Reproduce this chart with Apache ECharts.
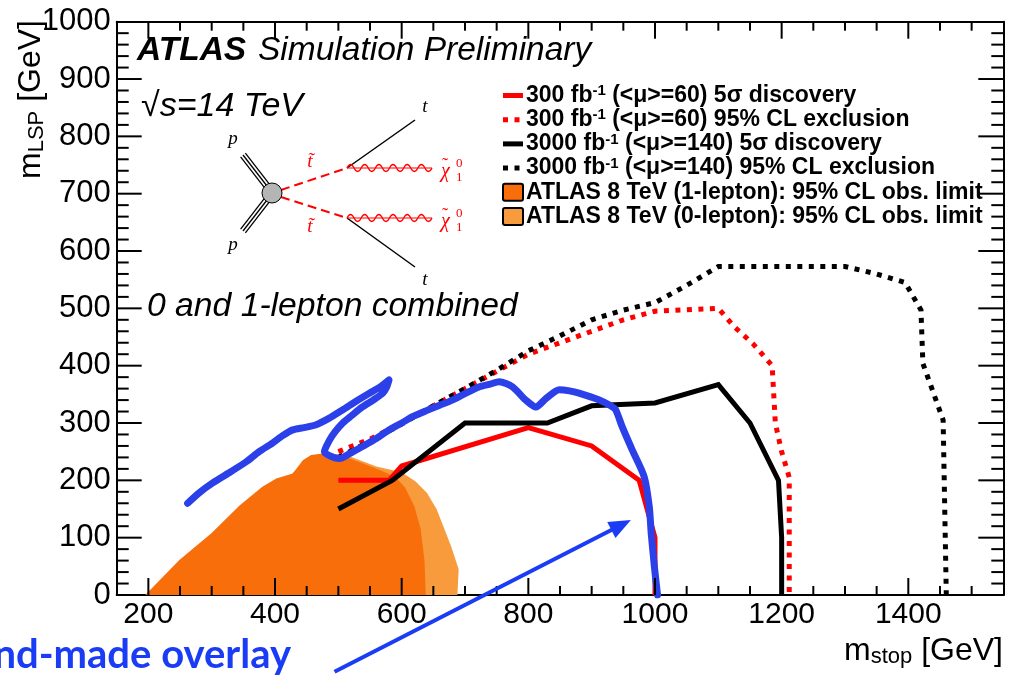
<!DOCTYPE html>
<html><head><meta charset="utf-8">
<script src="https://cdn.jsdelivr.net/npm/echarts@6/dist/echarts.min.js"></script>
<style>html,body{margin:0;padding:0;background:#fff}#c{width:1010px;height:678px}</style>
</head><body><div id="c"></div>
<script>
// ---------- data ----------
const xMajorTicks = [200, 400, 600, 800, 1000, 1200, 1400];
const yMajorTicks = [0, 100, 200, 300, 400, 500, 600, 700, 800, 900, 1000];
const xMinorStep = 50, yMinorStep = 20;

const disc300 = [[500,200],[580,200],[600,225],[800,292],[900,260],[975,200],[1000,100],[1000,0]];
const excl300 = [[500,250],[550,272],[600,300],[650,330],[700,360],[750,390],[800,420],[850,440],[900,460],[950,480],[1000,495],[1100,500],[1125,468],[1155,438],[1185,400],[1190,300],[1200,250],[1212,205],[1212,0]];
const disc3000 = [[500,150],[585,200],[700,300],[830,300],[900,330],[1000,335],[1100,367],[1150,300],[1195,200],[1200,100],[1200,0]];
const excl3000 = [[500,240],[550,268],[600,298],[650,330],[700,360],[750,392],[800,426],[850,452],[900,480],[950,497],[1000,510],[1050,540],[1100,573],[1300,573],[1350,560],[1395,545],[1420,497],[1423,404],[1455,305],[1460,0]];
const atlas8TeV1lep = [[195,0],[249,61],[300,108],[344,156],[380,189],[402,203],[428,212],[444,235],[457,244],[475,247],[502,244],[538,230],[570,216],[590,206],[605,188],[620,155],[630,115],[636,60],[638,0]];
const atlas8TeV0lep = [[330,0],[380,150],[430,215],[470,245],[510,245],[560,224],[600,214],[622,198],[640,178],[655,150],[665,122],[678,85],[690,45],[688,0]];
const handOverlay = [[262,160],[280,178],[301,195],[330,215],[354,232],[375,250],[396,265],[412,278],[428,288],[446,292],[465,297],[485,308],[507,323],[528,338],[549,352],[565,362],[580,375],[576,362],[570,352],[555,340],[538,328],[520,312],[507,300],[495,285],[486,270],[478,250],[488,242],[502,238],[520,248],[538,259],[560,273],[580,288],[600,300],[617,311],[640,322],[660,331],[680,340],[696,349],[722,363],[740,368],[754,372],[775,363],[796,340],[812,328],[828,343],[849,358],[865,356],[880,352],[912,340],[930,330],[938,323],[948,294],[964,253],[983,206],[991,154],[994,108],[999,50],[1004,0]];
const arrowFrom = [494,-134];
const arrowTo = [962,131];

const legendLabels = [
  '300 fb{sup|-1} (<μ>=60) 5σ discovery',
  '300 fb{sup|-1} (<μ>=60) 95% CL exclusion',
  '3000 fb{sup|-1} (<μ>=140) 5σ discovery',
  '3000 fb{sup|-1} (<μ>=140) 95% CL exclusion',
  'ATLAS 8 TeV (1-lepton): 95% CL obs. limit',
  'ATLAS 8 TeV (0-lepton): 95% CL obs. limit'
];
const xTitle = 'm{sub|stop} [GeV]';
const yTitle = 'm{sub|LSP} [GeV]';

// ---------- styles ----------
const F = '"Liberation Sans", Arial, Helvetica, sans-serif';
const SERIF = '"Liberation Serif", "DejaVu Serif", serif';
const RED = '#ff0000', BLACK = '#000000', BLUE = '#2b40e8';
const ORANGE1 = '#f76e0b', ORANGE0 = '#f89b3d';
const DOT = [5, 6.5];

const chart = echarts.init(document.getElementById('c'), null, {renderer: 'canvas'});

const axLine = {show: true, onZero: false, lineStyle: {color: '#000', width: 2}};
const fmt = v => String(v);
function xAx(pos) {
  return {
    type: 'value', position: pos, min: 150, max: 1550, interval: 50,
    splitLine: {show: false}, axisLine: axLine, axisTick: {show: false},
    axisLabel: pos === 'bottom' ? {show: true, customValues: xMajorTicks, formatter: fmt, fontSize: 30, fontFamily: F, color: '#000', margin: 5}
                                : {show: false}
  };
}
function yAx(pos) {
  return {
    type: 'value', position: pos, min: 0, max: 1000, interval: 100,
    splitLine: {show: false}, axisLine: axLine, axisTick: {show: false},
    axisLabel: pos === 'left' ? {show: true, formatter: fmt, fontSize: 31, fontFamily: F, color: '#000', margin: 6}
                              : {show: false}
  };
}

function poly(name, pts, color, z) {
  return {
    type: 'custom', name: name, xAxisIndex: 0, yAxisIndex: 0, z: z, silent: true,
    data: [pts[0]],
    renderItem: function (params, api) {
      return {type: 'polygon', shape: {points: pts.map(p => api.coord(p))}, style: {fill: color}};
    }
  };
}
function line(name, pts, color, width, dash, z, extra) {
  return Object.assign({
    type: 'line', name: name, data: pts, xAxisIndex: 0, yAxisIndex: 0, z: z,
    symbol: 'none', showSymbol: false, silent: true,
    lineStyle: {color: color, width: width, type: dash || 'solid', cap: 'butt', join: 'miter'}
  }, extra || {});
}

function txt(x, y, text, st) {
  const s = Object.assign({text: text, fill: '#000', fontFamily: F, fontSize: 30,
    align: 'left', verticalAlign: 'middle'}, st || {});
  s.textAlign = s.align; s.textVerticalAlign = s.verticalAlign;
  return {type: 'text', x: x, y: y, z: 100, silent: true, style: s};
}
function seg(x1, y1, x2, y2, stroke, w, dash) {
  return {type: 'line', z: 100, silent: true, shape: {x1: x1, y1: y1, x2: x2, y2: y2},
    style: {stroke: stroke, lineWidth: w, lineDash: dash || null}};
}

// ---------- graphics (annotations) ----------
const g = [];
g.push(txt(137, 51, 'ATLAS', {fontWeight: 'bold', fontStyle: 'italic', fontSize: 33.5}));
g.push(txt(258, 51, 'Simulation Preliminary', {fontStyle: 'italic', fontSize: 33.5}));
g.push(txt(141, 107, '√s=14 TeV', {fontStyle: 'italic', fontSize: 34}));
g.push(txt(147, 307, '0 and 1-lepton combined', {fontStyle: 'italic', fontSize: 33.7}));

// Feynman diagram
function triple(x1, y1, x2, y2) {
  const dx = x2 - x1, dy = y2 - y1, L = Math.hypot(dx, dy);
  const nx = -dy / L, ny = dx / L;
  [-3, 0, 3].forEach(o => g.push(seg(x1 + nx * o, y1 + ny * o, x2 + nx * o, y2 + ny * o, '#000', 1.3)));
}
triple(243, 155, 267, 186);
triple(243, 231, 267, 200);
g.push(seg(281, 190, 347, 168, RED, 2, [9, 5]));
g.push(seg(281, 197, 347, 218, RED, 2, [9, 5]));
g.push(seg(347, 168, 415, 120, '#000', 1.5));
g.push(seg(347, 218, 415, 267, '#000', 1.5));
function wave(x1, x2, y) {
  const n = 6, w = (x2 - x1) / n;
  for (let i = 0; i < n; i++) {
    const a = x1 + i * w;
    g.push({type: 'bezierCurve', z: 100, silent: true,
      shape: {x1: a, y1: y, x2: a + w / 2, y2: y, cpx1: a + w / 4, cpy1: y - 7},
      style: {stroke: RED, lineWidth: 1.3, fill: null}});
    g.push({type: 'bezierCurve', z: 100, silent: true,
      shape: {x1: a + w / 2, y1: y, x2: a + w, y2: y, cpx1: a + 3 * w / 4, cpy1: y + 7},
      style: {stroke: RED, lineWidth: 1.3, fill: null}});
  }
  g.push(seg(x1, y, x2, y, RED, 1));
}
wave(347, 432, 168);
wave(347, 432, 218);
g.push({type: 'circle', z: 101, silent: true, shape: {cx: 272, cy: 193, r: 10}, style: {fill: '#b5b5b5', stroke: '#000', lineWidth: 1}});
const serifIt = {fontFamily: SERIF, fontStyle: 'italic', fontSize: 19};
g.push(txt(233, 139, 'p', Object.assign({}, serifIt, {align: 'center'})));
g.push(txt(233, 245, 'p', Object.assign({}, serifIt, {align: 'center'})));
g.push(txt(310, 162, 't̃', Object.assign({}, serifIt, {align: 'center', fill: RED})));
g.push(txt(310, 227, 't̃', Object.assign({}, serifIt, {align: 'center', fill: RED})));
g.push(txt(425, 107, 't', Object.assign({}, serifIt, {align: 'center'})));
g.push(txt(425, 280, 't', Object.assign({}, serifIt, {align: 'center'})));
[171, 221].forEach(y => {
  g.push(txt(441, y + 1, 'χ', Object.assign({}, serifIt, {fill: RED, fontSize: 20})));
  g.push(txt(442, y - 5, '˜', Object.assign({}, serifIt, {fill: RED, fontStyle: 'normal', fontSize: 18})));
  g.push(txt(456, y - 7, '0', Object.assign({}, serifIt, {fill: RED, fontStyle: 'normal', fontSize: 13})));
  g.push(txt(456, y + 7, '1', Object.assign({}, serifIt, {fill: RED, fontStyle: 'normal', fontSize: 13})));
});

// Legend
const legX = 503, legTextX = 526, legY0 = 95.5, legDY = 24.2;
const legRich = {sup: {fontSize: 15, fontWeight: 'bold', fontFamily: F, verticalAlign: 'top', lineHeight: 10}};
legendLabels.forEach((lab, i) => {
  const y = legY0 + i * legDY;
  if (i === 0) g.push(seg(legX, y, legX + 20, y, RED, 5));
  if (i === 1) g.push(seg(legX, y, legX + 20, y, RED, 5, [5, 6.5]));
  if (i === 2) g.push(seg(legX, y, legX + 20, y, '#000', 5));
  if (i === 3) g.push(seg(legX, y, legX + 20, y, '#000', 5, [5, 6.5]));
  if (i >= 4) g.push({type: 'rect', z: 100, silent: true, shape: {x: legX, y: y - 8.5, width: 20, height: 17, r: 2},
    style: {fill: i === 4 ? ORANGE1 : ORANGE0, stroke: '#000', lineWidth: 2}});
  g.push(txt(legTextX, y, lab, {fontWeight: 'bold', fontSize: 23, lineHeight: 24, rich: legRich}));
});

// Axis titles
g.push(txt(1003, 651, xTitle, {align: 'right', fontSize: 32, lineHeight: 34,
  rich: {sub: {fontSize: 22, fontFamily: F, verticalAlign: 'bottom', lineHeight: 16}}}));
g.push({type: 'text', x: 31, y: 20, rotation: Math.PI / 2, z: 100, silent: true,
  style: {text: yTitle, fill: '#000', fontFamily: F, fontSize: 32, lineHeight: 34,
    align: 'right', verticalAlign: 'middle', textAlign: 'right', textVerticalAlign: 'middle',
    rich: {sub: {fontSize: 22, fontFamily: F, verticalAlign: 'bottom', lineHeight: 16}}}});

// Hand-made overlay note
g.push(txt(291, 655, 'Hand-made overlay', {align: 'right', fontFamily: 'Lato, "Open Sans", sans-serif', fontWeight: 'bold', fontSize: 40, fill: '#1a3cf5'}));

const option = {
  animation: false,
  backgroundColor: '#ffffff',
  grid: {left: 116.7, right: 6.7, top: 21.7, bottom: 83, containLabel: false},
  xAxis: [xAx('bottom'), xAx('top')],
  yAxis: [yAx('left'), yAx('right')],
  series: [
    poly('ATLAS 8 TeV (0-lepton)', atlas8TeV0lep, ORANGE0, 1),
    poly('ATLAS 8 TeV (1-lepton)', atlas8TeV1lep, ORANGE1, 2),
    line('300 exclusion', excl300, RED, 5, DOT, 3),
    line('3000 exclusion', excl3000, BLACK, 5, DOT, 4),
    line('300 discovery', disc300, RED, 5, null, 5),
    line('3000 discovery', disc3000, BLACK, 5, null, 6),
    line('hand-made overlay', handOverlay, BLUE, 7, null, 7, {smooth: 0.25, lineStyle: {color: BLUE, width: 7, cap: 'round', join: 'round'}})
  ],
  graphic: {elements: g}
};
chart.setOption(option);

// ---------- ticks (inside, on all four sides) from the axis scales ----------
const extra = [];
const toPx = v => chart.convertToPixel({xAxisIndex: 0, yAxisIndex: 0}, v);
const bl = toPx([150, 0]), tr = toPx([1550, 1000]);
for (let v = 200; v <= 1500; v += xMinorStep) {
  const major = xMajorTicks.indexOf(v) >= 0, len = major ? 17 : 9;
  const px = toPx([v, 0])[0];
  extra.push(seg(px, bl[1], px, bl[1] - len, '#000', 2));
  extra.push(seg(px, tr[1], px, tr[1] + len, '#000', 2));
}
for (let v = 20; v < 1000; v += yMinorStep) {
  const major = yMajorTicks.indexOf(v) >= 0, len = major ? 25 : 12;
  const py = toPx([150, v])[1];
  extra.push(seg(bl[0], py, bl[0] + len, py, '#000', 2));
  extra.push(seg(tr[0], py, tr[0] - len, py, '#000', 2));
}

// Arrow from data coordinates
const p1 = toPx(arrowFrom), p2 = toPx(arrowTo);
const dx = p2[0] - p1[0], dy = p2[1] - p1[1], L = Math.hypot(dx, dy);
const ux = dx / L, uy = dy / L, nx = -uy, ny = ux;
const HL = 22, HW = 9;
extra.push(seg(p1[0], p1[1], p2[0] - ux * HL * 0.8, p2[1] - uy * HL * 0.8, '#1a3cf5', 4));
extra.push({type: 'polygon', z: 100, silent: true, shape: {points: [
  [p2[0], p2[1]],
  [p2[0] - ux * HL + nx * HW, p2[1] - uy * HL + ny * HW],
  [p2[0] - ux * HL - nx * HW, p2[1] - uy * HL - ny * HW]]}, style: {fill: '#1a3cf5'}});
chart.setOption({graphic: {elements: g.concat(extra)}}, {replaceMerge: ['graphic']});
</script></body></html>
